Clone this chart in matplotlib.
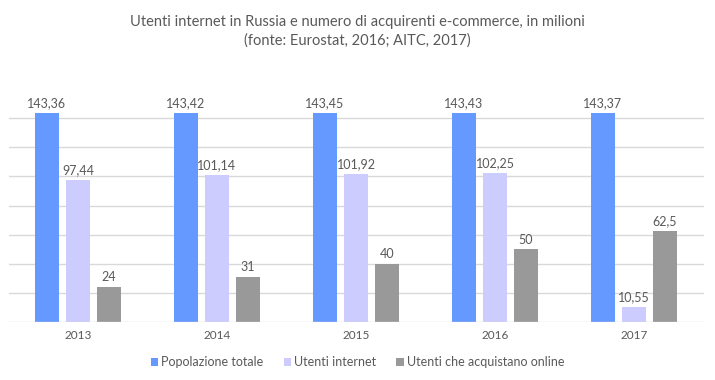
import matplotlib
matplotlib.use("Agg")
import matplotlib.pyplot as plt
import numpy as np

years = ["2013", "2014", "2015", "2016", "2017"]
popolazione = [143.36, 143.42, 143.45, 143.43, 143.37]
utenti_internet = [97.44, 101.14, 101.92, 102.25, 10.55]
acquistano = [24, 31, 40, 50, 62.5]
series_names = ["Popolazione totale", "Utenti internet", "Utenti che acquistano online"]
colors = ["#6699FF", "#CCCCFF", "#999999"]

def fmt(v):
    s = ("%g" % v)
    return s.replace(".", ",")

plt.rcParams['font.family'] = ['Lato', 'DejaVu Sans']
txt = "#595959"

fig = plt.figure(figsize=(7.15, 3.8), dpi=100)
ax = fig.add_axes([8.5/715, 1 - 322/380, (703.5 - 8.5)/715, (322 - 89)/380])

x = np.arange(len(years))
w = 0.173
off = 0.223
for i, (vals, c, name) in enumerate(zip([popolazione, utenti_internet, acquistano], colors, series_names)):
    bars = ax.bar(x + (i - 1) * off, vals, width=w, color=c, label=name, zorder=3)
    for b, v in zip(bars, vals):
        ax.text(b.get_x() + b.get_width() / 2, v + 2.5, fmt(v), ha="center", va="bottom",
                fontsize=9, color=txt)

ax.set_xlim(-0.5, len(years) - 0.5)
ax.set_ylim(0, 160)
for gy in range(20, 160, 20):
    ax.axhline(gy, color="#D9D9D9", lw=1, zorder=1)
ax.axhline(0, color="#D9D9D9", lw=1, zorder=4)
ax.set_yticks([])
ax.set_xticks(x)
ax.set_xticklabels(years, fontsize=8.5, color=txt)
ax.tick_params(axis="x", length=0, pad=6)
for s in ax.spines.values():
    s.set_visible(False)

fig.text(0.5, 1 - 22/380, "Utenti internet in Russia e numero di acquirenti e-commerce, in milioni",
         ha="center", va="center", fontsize=10.5, color=txt)
fig.text(0.5, 1 - 41/380, "(fonte: Eurostat, 2016; AITC, 2017)",
         ha="center", va="center", fontsize=10.5, color=txt)

fig.legend(loc="center", bbox_to_anchor=(0.5, 1 - 362/380), ncol=3, frameon=False,
           fontsize=9, labelcolor=txt, handlelength=0.6, handleheight=0.6,
           handletextpad=0.25, columnspacing=1.6)

fig.savefig("out.png", dpi=100)
